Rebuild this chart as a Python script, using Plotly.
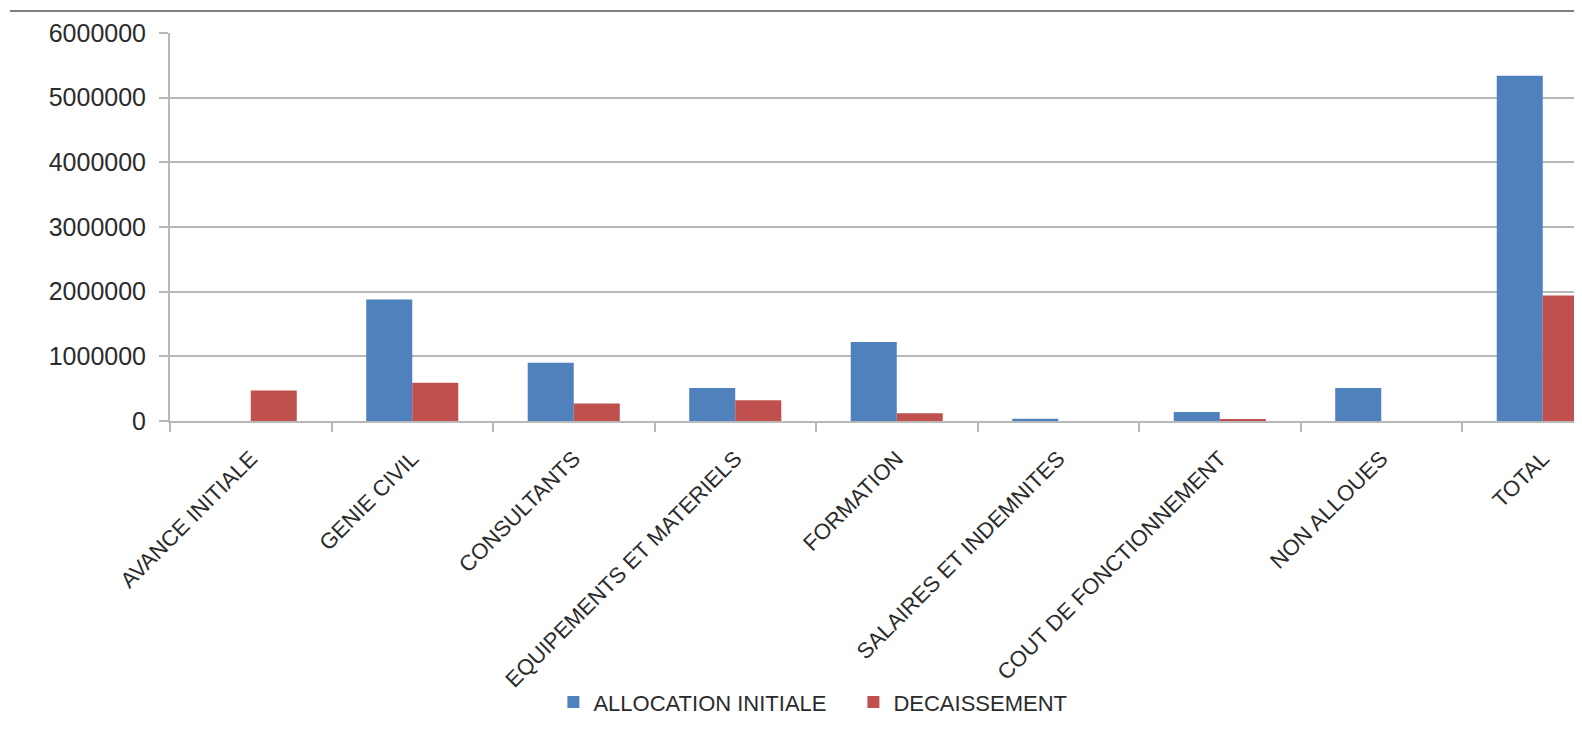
import plotly.graph_objects as go

categories = [
    "AVANCE INITIALE",
    "GENIE CIVIL",
    "CONSULTANTS",
    "EQUIPEMENTS ET MATERIELS",
    "FORMATION",
    "SALAIRES ET INDEMNITES",
    "COUT DE FONCTIONNEMENT",
    "NON ALLOUES",
    "TOTAL",
]
allocation_initiale = [0, 1880000, 900000, 510000, 1220000, 35000, 140000, 510000, 5340000]
decaissement = [470000, 590000, 270000, 320000, 120000, 0, 20000, 0, 1940000]

BLUE = "#4F81BD"
RED = "#C0504D"
GRID = "#B8B8B8"
TEXT = "#2B2B2B"


def budget_bars():

    fig = go.Figure()

    fig.add_trace(go.Bar(
        x=categories,
        y=allocation_initiale,
        name="ALLOCATION INITIALE",
        marker=dict(color=BLUE, line=dict(width=0))
    ))

    fig.add_trace(go.Bar(
        x=categories,
        y=decaissement,
        name="DECAISSEMENT",
        marker=dict(color=RED, line=dict(width=0))
    ))

    # the page body has an 8px margin, so the figure is offset by it
    fig.update_layout(
        width=1574,
        height=731,
        barmode="group",
        bargap=0.43,
        bargroupgap=0,
        paper_bgcolor="white",
        plot_bgcolor="white",
        font=dict(family="Liberation Sans", color=TEXT),
        margin=dict(
            l=162,
            r=0,
            t=25,
            b=318
        ),
        legend=dict(
            orientation="h",
            x=0.484,
            xanchor="center",
            y=-0.725,
            yanchor="middle",
            font=dict(size=22),
            itemwidth=30,
            entrywidth=255,
            bgcolor="rgba(0,0,0,0)",
        ),
        shapes=[
            dict(
                type="line",
                xref="paper",
                yref="paper",
                x0=-0.1133,
                x1=1.0,
                y0=1.0567,
                y1=1.0567,
                line=dict(color="#7F7F7F", width=2)
            )
        ]
    )

    fig.update_xaxes(
        type="category",
        range=[-0.5, 8.243],
        tickangle=-45,
        tickfont=dict(size=22),
        showline=True,
        linecolor=GRID,
        linewidth=2,
        ticks="outside",
        tickson="boundaries",
        ticklen=9,
        tickwidth=2,
        tickcolor=GRID,
        ticklabelstandoff=14,
        showgrid=False
    )

    fig.update_yaxes(
        range=[0, 6000000],
        dtick=1000000,
        tickformat="d",
        tickfont=dict(size=25),
        showgrid=True,
        gridcolor=GRID,
        gridwidth=2,
        zeroline=False,
        showline=True,
        linecolor=GRID,
        linewidth=2,
        ticks="outside",
        ticklen=9,
        tickwidth=2,
        tickcolor=GRID,
        ticklabelstandoff=8
    )

    return fig


fig = budget_bars()
fig.write_html("out.html")
